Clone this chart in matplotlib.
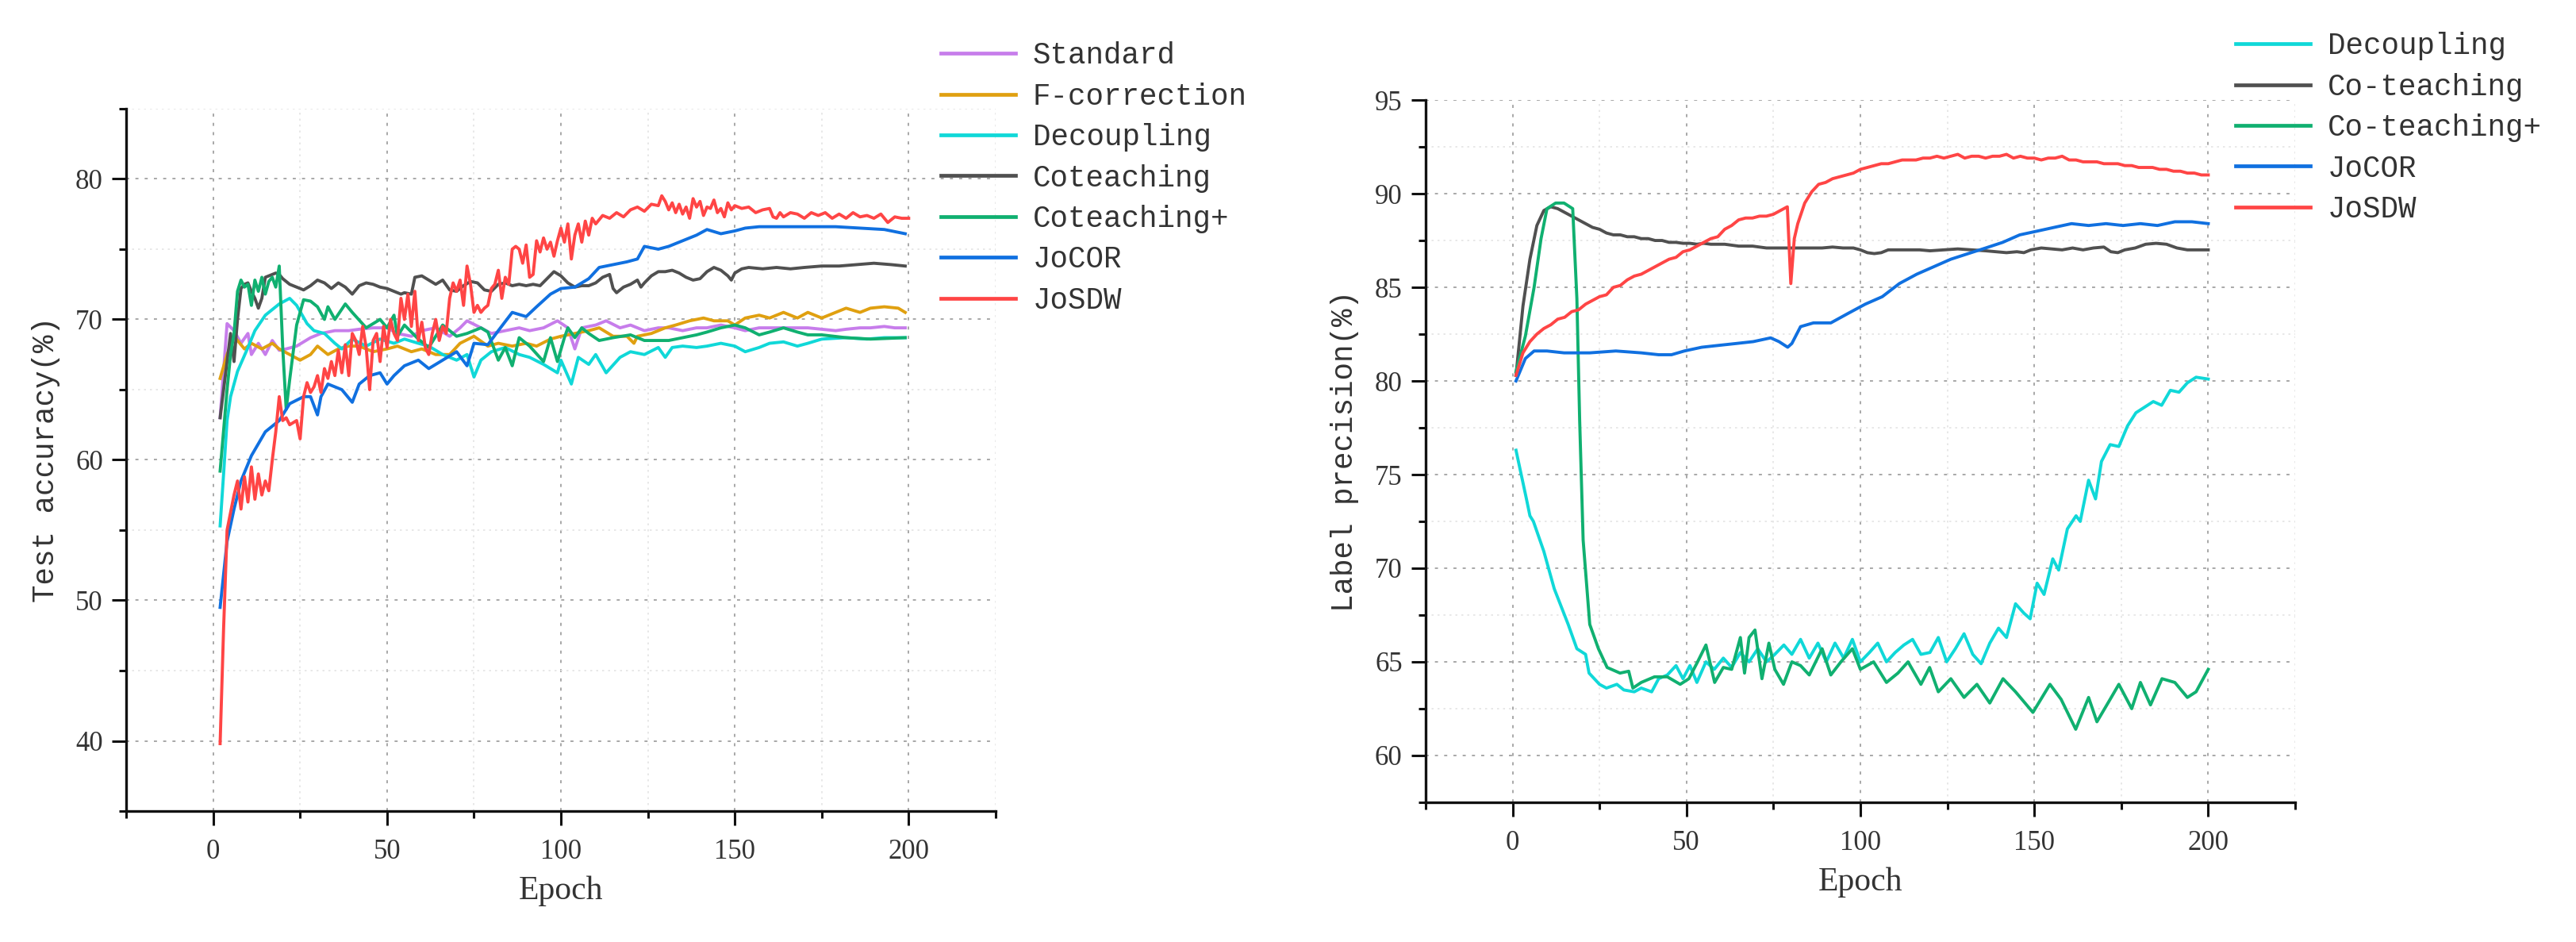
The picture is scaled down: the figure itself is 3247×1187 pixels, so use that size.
import numpy as np
import matplotlib.pyplot as plt
from matplotlib.ticker import MultipleLocator

# ----------------------------------------------------------------------
# data (epoch, value)
# ----------------------------------------------------------------------

# left panel: test accuracy (%)
standard = [(2, 63), (4, 69.7), (6, 69.2), (8, 68.3), (10, 69), (11, 67.5), (13, 68.3), (15, 67.5),
            (17, 68.5), (19, 67.8), (21, 67.9), (24, 68.1), (28, 68.7), (31, 69), (35, 69.2),
            (39, 69.2), (42, 69.3), (46, 69.4), (50, 69.4), (53, 69), (57, 68.8), (60, 69.2),
            (64, 69.4), (68, 68.8), (71, 69.4), (73, 69.9), (77, 69.4), (80, 69), (84, 69.2),
            (88, 69.4), (91, 69.2), (95, 69.4), (99, 69.9), (102, 69.4), (104, 67.9), (106, 69.4),
            (110, 69.6), (113, 69.9), (117, 69.4), (120, 69.6), (124, 69.2), (128, 69.4),
            (131, 69.4), (135, 69.2), (139, 69.4), (142, 69.4), (146, 69.6), (150, 69.4),
            (153, 69.2), (157, 69.4), (160, 69.4), (164, 69.4), (168, 69.4), (171, 69.4),
            (175, 69.3), (179, 69.2), (182, 69.3), (186, 69.4), (189, 69.4), (193, 69.5),
            (196, 69.4), (199, 69.4)]

f_correction = [(2, 65.8), (4, 67.5), (6, 68.8), (9, 67.9), (11, 68.3), (14, 67.9), (17, 68.3),
                (19, 67.9), (22, 67.5), (25, 67.1), (28, 67.5), (30, 68.1), (33, 67.5), (36, 67.9),
                (39, 68.1), (42, 68.1), (46, 67.7), (50, 67.9), (53, 68.1), (57, 67.7), (60, 67.9),
                (64, 67.5), (68, 67.5), (71, 68.3), (75, 68.8), (79, 68.1), (82, 68.3), (86, 68.1),
                (90, 68.3), (93, 68.1), (97, 68.6), (100, 68.8), (104, 69), (108, 69.2),
                (111, 69.4), (115, 68.8), (119, 68.8), (121, 68.3), (122, 68.8), (126, 69),
                (130, 69.4), (133, 69.6), (137, 69.9), (141, 70.1), (144, 69.9), (148, 69.9),
                (150, 69.6), (153, 70.1), (157, 70.3), (160, 70.1), (164, 70.5), (168, 70.1),
                (171, 70.5), (175, 70.1), (179, 70.5), (182, 70.8), (186, 70.5), (189, 70.8),
                (193, 70.9), (197, 70.8), (199, 70.5)]

decoupling = [(2, 55.3), (3, 59), (4, 62.8), (5, 64.5), (7, 66.3), (10, 68), (12, 69.2), (15, 70.3),
              (19, 71.1), (22, 71.5), (24, 71), (27, 69.7), (29, 69.2), (32, 69), (35, 68.3),
              (37, 67.9), (40, 68.6), (44, 68.1), (48, 68.6), (52, 68.3), (55, 68.6), (59, 68.3),
              (62, 68.1), (66, 67.5), (70, 67.1), (73, 67.5), (75, 65.9), (77, 67.1), (80, 67.7),
              (84, 68), (88, 67.5), (91, 67.3), (95, 66.8), (99, 66.2), (100, 67.1), (103, 65.4),
              (105, 67.3), (108, 66.8), (110, 67.5), (113, 66.2), (117, 67.3), (120, 67.7),
              (124, 67.5), (128, 68), (130, 67.3), (132, 68), (135, 68.1), (139, 68), (142, 68.1),
              (146, 68.3), (150, 68.1), (153, 67.7), (157, 68), (160, 68.3), (164, 68.4),
              (168, 68.1), (171, 68.3), (175, 68.6), (182, 68.7), (188, 68.6), (193, 68.7),
              (199, 68.7)]

coteaching = [(2, 63), (4, 67), (5, 69), (6, 67), (7, 70), (8, 72.2), (9, 72.5), (10, 72.6), (11, 72),
              (12, 71.5), (13, 70.8), (14, 71.5), (15, 73), (16, 73.1), (17, 73.2), (18, 73.3),
              (19, 73.2), (20, 72.9), (22, 72.5), (24, 72.3), (26, 72.1), (28, 72.4), (30, 72.8),
              (32, 72.6), (34, 72.2), (36, 72.6), (38, 72.3), (40, 71.8), (42, 72.4), (44, 72.6),
              (46, 72.5), (48, 72.3), (50, 72.2), (52, 72.0), (54, 71.8), (55, 71.9), (57, 71.8),
              (58, 73), (60, 73.1), (62, 72.8), (64, 72.5), (66, 72.8), (68, 72.1), (70, 72),
              (72, 72.4), (74, 72.7), (76, 72.6), (78, 72.1), (80, 72), (82, 72.5), (84, 72.6),
              (86, 72.4), (88, 72.5), (90, 72.4), (92, 72.5), (94, 72.4), (96, 72.9), (98, 73.4),
              (100, 73.1), (102, 72.6), (104, 72.3), (106, 72.4), (108, 72.4), (110, 72.6),
              (112, 73), (114, 73.2), (115, 72.2), (116, 71.9), (118, 72.3), (120, 72.5),
              (122, 72.8), (123, 72.3), (124, 72.6), (126, 73.1), (128, 73.4), (130, 73.4),
              (132, 73.5), (134, 73.3), (136, 73), (138, 72.8), (140, 72.9), (142, 73.4),
              (144, 73.7), (146, 73.5), (148, 73.1), (149, 72.8), (150, 73.3), (152, 73.6),
              (154, 73.7), (158, 73.6), (162, 73.7), (166, 73.6), (170, 73.7), (175, 73.8),
              (180, 73.8), (185, 73.9), (190, 74), (195, 73.9), (199, 73.8)]

coteaching_plus = [(2, 59.2), (4, 65), (5, 67.5), (6, 69), (7, 72), (8, 72.8), (9, 72.3), (10, 72.5),
                   (11, 71), (12, 72.8), (13, 72), (14, 73), (15, 71.8), (16, 72.7), (17, 73),
                   (18, 72.3), (19, 73.8), (20, 68), (21, 63.6), (22, 65.7), (24, 69.6), (26, 71.4),
                   (28, 71.3), (30, 70.9), (32, 70), (33, 70.9), (35, 70), (38, 71.1), (40, 70.5),
                   (44, 69.4), (48, 70), (50, 69.4), (52, 70.3), (53, 68.8), (55, 69.6), (59, 68.6),
                   (62, 68), (66, 69.6), (70, 68.8), (73, 69), (77, 69.4), (79, 69.1), (82, 67.1),
                   (84, 68), (86, 66.7), (88, 68.7), (91, 68.1), (95, 67), (97, 68.7), (99, 67),
                   (101, 68.7), (102, 69.4), (104, 68.7), (106, 69.4), (108, 69), (111, 68.5),
                   (115, 68.7), (120, 68.9), (124, 68.5), (128, 68.5), (131, 68.5), (135, 68.7),
                   (139, 68.9), (142, 69.1), (146, 69.4), (150, 69.6), (153, 69.4), (157, 68.9),
                   (160, 69.1), (164, 69.4), (168, 69.1), (171, 68.9), (175, 68.9), (182, 68.7),
                   (189, 68.6), (199, 68.7)]

jocor = [(2, 49.5), (4, 54.2), (6, 56.5), (8, 58.5), (11, 60.3), (15, 62), (19, 62.8), (22, 64),
         (26, 64.5), (28, 64.5), (30, 63.2), (31, 64.5), (33, 65.4), (37, 65), (40, 64.1),
         (42, 65.4), (45, 66), (48, 66.2), (50, 65.4), (52, 66), (55, 66.7), (59, 67.1),
         (62, 66.5), (66, 67.1), (70, 67.7), (73, 66.7), (75, 68.3), (79, 68.2), (82, 69.2),
         (86, 70.5), (90, 70.2), (93, 70.9), (97, 71.8), (100, 72.2), (104, 72.3), (108, 72.9),
         (111, 73.7), (115, 73.9), (119, 74.1), (122, 74.3), (124, 75.2), (128, 75), (131, 75.2),
         (135, 75.6), (139, 76), (142, 76.4), (146, 76.1), (150, 76.3), (153, 76.5), (157, 76.6),
         (164, 76.6), (171, 76.6), (179, 76.6), (186, 76.5), (193, 76.4), (199, 76.1)]

josdw = [(2, 39.8), (3, 48), (4, 55), (6, 57.5), (7, 58.5), (8, 56.5), (9, 58.8), (10, 57),
         (11, 59.5), (12, 57.2), (13, 59), (14, 57.5), (15, 58.5), (16, 57.8), (17, 60), (18, 62),
         (19, 64.5), (20, 62.8), (21, 63), (22, 62.5), (24, 62.8), (25, 61.5), (26, 64.5),
         (27, 65.5), (28, 64.8), (29, 65.2), (30, 66), (31, 64.8), (32, 66.5), (33, 65.8),
         (34, 67), (35, 66), (36, 67.8), (37, 66.2), (38, 68.2), (39, 66), (40, 69), (41, 68.5),
         (42, 67.5), (43, 69.5), (44, 68), (45, 65), (46, 68.5), (47, 69), (48, 67), (49, 69.5),
         (50, 68), (51, 70), (52, 69), (53, 68.5), (54, 71.5), (55, 70), (56, 71.8), (57, 69.5),
         (58, 72), (59, 68.5), (60, 69.8), (61, 68), (62, 67.5), (63, 69), (64, 70), (65, 68.5),
         (66, 69.5), (67, 69), (68, 71.5), (69, 72.6), (70, 72), (71, 72.8), (72, 71),
         (73, 73.8), (74, 72.5), (75, 70.5), (76, 71), (77, 70.5), (78, 70.8), (79, 71),
         (80, 72.2), (81, 72.5), (82, 73.5), (83, 71.5), (84, 73), (85, 72.5), (86, 75),
         (87, 75.2), (88, 75), (89, 74), (90, 75.3), (91, 73), (92, 73.2), (93, 75.6),
         (94, 74.8), (95, 75.8), (96, 75), (97, 75.5), (98, 74.5), (99, 75.6), (100, 76.5),
         (101, 75.5), (102, 76.8), (103, 74.3), (104, 76), (105, 76.8), (106, 75.5), (107, 77),
         (108, 76), (109, 77.2), (110, 76.8), (112, 77.4), (114, 77.2), (116, 77.6), (118, 77.3),
         (120, 77.8), (122, 78), (124, 77.7), (126, 78.2), (128, 78.1), (129, 78.8), (130, 78.4),
         (131, 77.8), (132, 78.3), (133, 77.6), (134, 78.2), (135, 77.5), (136, 78), (137, 77.2),
         (138, 78.6), (139, 78), (140, 78.4), (141, 77.4), (142, 78), (143, 77.9), (144, 78.5),
         (145, 77.6), (146, 77.9), (147, 77.3), (148, 78.3), (149, 77.8), (150, 78.1),
         (152, 77.9), (154, 78), (156, 77.6), (158, 77.8), (160, 77.9), (161, 77.3), (162, 77.2),
         (163, 77.6), (164, 77.3), (166, 77.6), (168, 77.5), (170, 77.2), (172, 77.6),
         (174, 77.4), (176, 77.6), (178, 77.2), (180, 77.5), (182, 77.2), (184, 77.6),
         (186, 77.3), (188, 77.4), (190, 77.2), (192, 77.5), (194, 76.9), (196, 77.3),
         (198, 77.2), (200, 77.2)]

# right panel: label precision (%)
decoupling_p = [(1, 76.3), (2.5, 75), (4, 73.7), (5, 72.8), (6, 72.5), (9, 70.9), (12, 68.9), (16, 67),
                (18.5, 65.7), (21, 65.4), (22, 64.4), (25, 63.8), (27, 63.6), (30, 63.8), (32, 63.5),
                (35, 63.4), (37, 63.6), (40, 63.4), (42, 64.1), (44.5, 64.3), (47, 64.8), (49, 64.1),
                (51, 64.8), (53, 63.9), (55.6, 65), (58, 64.6), (60.6, 65.2), (63, 64.7),
                (65.5, 65.5), (68, 65), (70.5, 65.7), (73, 65), (75.4, 65.4), (78, 65.9),
                (80.3, 65.4), (82.8, 66.2), (85.3, 65.2), (87.8, 66), (90.2, 65), (92.7, 66),
                (95.2, 65.2), (97.7, 66.2), (100, 65), (102.6, 65.5), (105, 66), (107.5, 65),
                (110, 65.5), (112.5, 65.9), (115, 66.2), (117.4, 65.4), (120, 65.5), (122.4, 66.3),
                (124.8, 65), (127.3, 65.7), (129.8, 66.5), (132.3, 65.4), (134.7, 64.9), (137.2, 66),
                (139.7, 66.8), (142, 66.3), (144.6, 68.1), (147, 67.6), (148.8, 67.3),
                (150.8, 69.2), (152.8, 68.6), (155.3, 70.5), (157, 69.9), (159.5, 72.1), (162, 72.8),
                (163.2, 72.5), (165.6, 74.7), (167.6, 73.7), (169.3, 75.7), (171.8, 76.6),
                (174.3, 76.5), (176.8, 77.6), (179.2, 78.3), (181.7, 78.6), (184.2, 78.9),
                (186.6, 78.7), (189.1, 79.5), (191.6, 79.4), (194, 79.9), (196.5, 80.2), (200, 80.1)]

coteaching_p = [(1, 80.3), (3, 84), (5, 86.5), (7, 88.3), (9, 89.1), (11, 89.3), (13, 89.2), (15, 89.0),
                (17, 88.8), (19, 88.6), (21, 88.4), (23, 88.2), (25, 88.1), (27, 87.9), (29, 87.8),
                (31, 87.8), (33, 87.7), (35, 87.7), (37, 87.6), (39, 87.6), (41, 87.5), (43, 87.5),
                (45, 87.4), (47, 87.4), (49, 87.35), (51, 87.35), (53, 87.3), (55, 87.35), (57, 87.3),
                (59, 87.3), (61, 87.3), (63, 87.25), (65, 87.2), (67, 87.2), (69, 87.2), (71, 87.15),
                (73, 87.1), (75, 87.1), (77, 87.1), (80, 87.1), (83, 87.1), (86, 87.1), (89, 87.1),
                (92, 87.15), (95, 87.1), (98, 87.1), (100, 87.0), (102, 86.85), (104, 86.8),
                (106, 86.85), (108, 87.0), (111, 87.0), (114, 87.0), (117, 87.0), (120, 86.95),
                (124, 87.0), (128, 87.05), (132, 87.0), (136, 86.95), (139, 86.9), (142, 86.85),
                (145, 86.9), (147, 86.85), (149, 87.0), (152, 87.1), (155, 87.05), (158, 87.0),
                (161, 87.1), (164, 87.0), (167, 87.1), (170, 87.15), (172, 86.9), (174, 86.85),
                (176, 87.0), (179, 87.1), (182, 87.3), (185, 87.35), (188, 87.3), (191, 87.1),
                (194, 87.0), (197, 87.0), (200, 87.0)]

coteaching_plus_p = [(1, 80.5), (3.7, 82.4), (6.2, 85), (8.2, 87.6), (9.9, 89.2), (12.4, 89.5),
                     (14.8, 89.5), (17.3, 89.2), (18.5, 84.4), (19.3, 77.9), (20.3, 71.5), (22.2, 67),
                     (24.7, 65.7), (27.2, 64.7), (30.9, 64.4), (33.4, 64.5), (34.6, 63.6), (37, 63.9),
                     (40.8, 64.2), (44.5, 64.2), (48.2, 63.8), (50.7, 64.1), (53.2, 65), (55.6, 65.9),
                     (58.1, 63.9), (60.6, 64.7), (63, 64.6), (65.5, 66.3), (66.7, 64.4), (68, 66.3),
                     (69.7, 66.7), (71.7, 64.1), (73.7, 66), (75.4, 64.6), (77.9, 63.8), (80.3, 65),
                     (82.8, 64.8), (85.3, 64.3), (89, 65.7), (91.5, 64.3), (94.4, 65), (97.7, 65.7),
                     (100, 64.6), (103.8, 65), (107.5, 63.9), (110.8, 64.4), (113.7, 65),
                     (117.4, 63.8), (119.9, 64.7), (122.4, 63.4), (126, 64.1), (129.8, 63.1),
                     (133.5, 63.8), (137.2, 62.8), (141, 64.1), (144.6, 63.4), (149.6, 62.3),
                     (154.5, 63.8), (157.7, 63), (161.9, 61.4), (165.6, 63.1), (168, 61.8),
                     (171.8, 63), (174.3, 63.8), (178, 62.5), (180.5, 63.9), (183.4, 62.7),
                     (186.7, 64.1), (190.4, 63.9), (194, 63.1), (196.5, 63.4), (200, 64.6)]

jocor_p = [(1, 80), (3.7, 81.2), (6.2, 81.6), (9.9, 81.6), (14.8, 81.5), (22.2, 81.5), (29.7, 81.6),
           (37, 81.5), (42, 81.4), (45.7, 81.4), (49.4, 81.6), (54.4, 81.8), (59.3, 81.9),
           (64.3, 82), (69.2, 82.1), (74.2, 82.3), (76.6, 82.1), (79.1, 81.8), (80.3, 82),
           (82.8, 82.9), (86.5, 83.1), (91.5, 83.1), (96.4, 83.6), (101.4, 84.1), (106.3, 84.5),
           (111.2, 85.2), (116.2, 85.7), (121.1, 86.1), (126, 86.5), (131, 86.8), (136, 87.1),
           (140.9, 87.4), (145.8, 87.8), (150.8, 88), (155.7, 88.2), (160.7, 88.4), (165.6, 88.3),
           (170.6, 88.4), (175.5, 88.3), (180.5, 88.4), (185.4, 88.3), (190.4, 88.5),
           (195.3, 88.5), (200, 88.4)]

josdw_p = [(1, 80.3), (3, 81.5), (5, 82.1), (7, 82.5), (9, 82.8), (11, 83.0), (13, 83.3), (15, 83.4),
           (17, 83.7), (19, 83.8), (21, 84.1), (23, 84.3), (25, 84.5), (27, 84.6), (29, 85.0),
           (31, 85.1), (33, 85.4), (35, 85.6), (37, 85.7), (39, 85.9), (41, 86.1), (43, 86.3),
           (45, 86.5), (47, 86.6), (49, 86.9), (51, 87.0), (53, 87.2), (55, 87.4), (57, 87.6),
           (59, 87.7), (61, 88.1), (63, 88.3), (65, 88.6), (67, 88.7), (69, 88.7), (71, 88.8),
           (73, 88.8), (75, 88.9), (77, 89.1), (79, 89.3), (80, 85.2), (81, 87.6), (82, 88.4),
           (84, 89.5), (86, 90.1), (88, 90.5), (90, 90.6), (92, 90.8), (94, 90.9), (96, 91.0),
           (98, 91.1), (100, 91.3), (102, 91.4), (104, 91.5), (106, 91.6), (108, 91.6),
           (110, 91.7), (112, 91.8), (114, 91.8), (116, 91.8), (118, 91.9), (120, 91.9),
           (122, 92.0), (124, 91.9), (126, 92.0), (128, 92.1), (130, 91.9), (132, 92.0),
           (134, 92.0), (136, 91.9), (138, 92.0), (140, 92.0), (142, 92.1), (144, 91.9),
           (146, 92.0), (148, 91.9), (150, 91.9), (152, 91.8), (154, 91.9), (156, 91.9),
           (158, 92.0), (160, 91.8), (162, 91.8), (164, 91.7), (166, 91.7), (168, 91.7),
           (170, 91.6), (172, 91.6), (174, 91.6), (176, 91.5), (178, 91.5), (180, 91.4),
           (182, 91.4), (184, 91.4), (186, 91.3), (188, 91.3), (190, 91.2), (192, 91.2),
           (194, 91.1), (196, 91.1), (198, 91.0), (200, 91.0)]

left_series = [('Standard', standard, '#C77DEB'),
               ('F-correction', f_correction, '#E0A010'),
               ('Decoupling', decoupling, '#10D8D8'),
               ('Coteaching', coteaching, '#505050'),
               ('Coteaching+', coteaching_plus, '#10B070'),
               ('JoCOR', jocor, '#1070E0'),
               ('JoSDW', josdw, '#FF4545')]

right_series = [('Decoupling', decoupling_p, '#10D8D8'),
                ('Co-teaching', coteaching_p, '#505050'),
                ('Co-teaching+', coteaching_plus_p, '#10B070'),
                ('JoCOR', jocor_p, '#1070E0'),
                ('JoSDW', josdw_p, '#FF4545')]

# ----------------------------------------------------------------------
# styling helpers
# ----------------------------------------------------------------------

SERIF = 'Liberation Serif'
MONO = 'Liberation Mono'
TEXT = '#333333'


def style_axes(ax, ylim, ymajor, yminor, ylabel):
    ax.set_xlim(-25, 225)
    ax.set_ylim(*ylim)
    ax.xaxis.set_major_locator(MultipleLocator(50))
    ax.xaxis.set_minor_locator(MultipleLocator(25))
    ax.yaxis.set_major_locator(MultipleLocator(ymajor))
    ax.yaxis.set_minor_locator(MultipleLocator(yminor))
    for s in ('top', 'right'):
        ax.spines[s].set_visible(False)
    for s in ('left', 'bottom'):
        ax.spines[s].set_linewidth(2.4)
        ax.spines[s].set_color('#111111')
    ax.tick_params(which='major', direction='out', length=13, width=2.2, color='#111111',
                   labelsize=25, labelcolor=TEXT)
    ax.tick_params(which='minor', direction='out', length=6.5, width=2.2, color='#111111')
    ax.tick_params(axis='x', which='major', pad=12)
    ax.tick_params(axis='y', which='major', pad=8)
    for lab in ax.get_xticklabels() + ax.get_yticklabels():
        lab.set_fontfamily(SERIF)
    ax.grid(which='major', linestyle=(0, (2, 4)), color='#a8a8a8', linewidth=1.4)
    ax.grid(which='minor', linestyle=(0, (1.5, 3)), color='#e4e4e4', linewidth=1.2)
    ax.set_axisbelow(True)
    ax.set_xlabel('Epoch', fontfamily=SERIF, fontsize=30, color=TEXT, labelpad=10)
    ax.set_ylabel(ylabel, fontfamily=MONO, fontsize=27, color=TEXT, labelpad=14)


fig = plt.figure(figsize=(32.47, 11.87), dpi=100)
ax_acc = fig.add_axes([0.0490, 0.1390, 0.3375, 0.7456])
ax_prec = fig.add_axes([0.5534, 0.1483, 0.3376, 0.7455])

for name, pts, color in left_series:
    ep, val = np.array(pts).T
    ax_acc.plot(ep, val, color=color, linewidth=2.8, label=name)

for name, pts, color in right_series:
    ep, val = np.array(pts).T
    ax_prec.plot(ep, val, color=color, linewidth=2.8, label=name)

style_axes(ax_acc, (35, 85), 10, 5, 'Test accuracy(%)')
style_axes(ax_prec, (57.5, 95), 5, 2.5, 'Label precision(%)')

legend_kw = dict(loc='upper left', bbox_transform=fig.transFigure, frameon=False,
                 prop={'family': MONO, 'size': 27}, handlelength=2.5,
                 handletextpad=0.58, labelspacing=0.41, borderpad=0, borderaxespad=0)
leg1 = ax_acc.legend(bbox_to_anchor=(0.3653, 0.9558), **legend_kw)
leg2 = ax_prec.legend(bbox_to_anchor=(0.8679, 0.9659), **legend_kw)
for leg in (leg1, leg2):
    for t in leg.get_texts():
        t.set_color(TEXT)
    for h in leg.get_lines():
        h.set_linewidth(3.4)

fig.savefig('out.png', dpi=100)
